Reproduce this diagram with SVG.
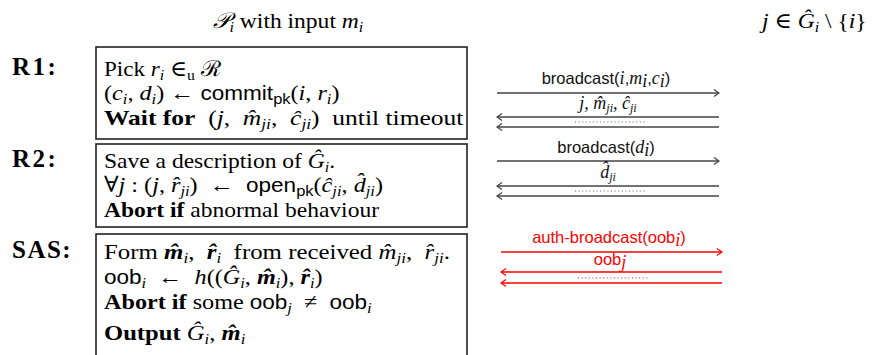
<svg xmlns="http://www.w3.org/2000/svg" width="874" height="355" viewBox="0 0 874 355">
<style>
.t{font-family:"Liberation Serif","DejaVu Serif",serif;font-size:22px;fill:#000;white-space:pre}
.b{font-weight:bold}
.i{font-style:italic}
.s{font-family:"Liberation Sans","DejaVu Sans",sans-serif;font-size:20.5px}
.sub{font-size:15px}
.lab{font-family:"Liberation Serif","DejaVu Serif",serif;font-size:25px;font-weight:bold;fill:#000;letter-spacing:2.5px}
.box{fill:none;stroke:#222;stroke-width:1.6}
.ar{stroke:#444;stroke-width:1.4;fill:none}
.red{stroke:#f00;stroke-width:1.4;fill:none}
.al{font-family:"Liberation Sans","DejaVu Sans",sans-serif;font-size:16.5px;fill:#111;text-anchor:middle}
.ali{font-family:"Liberation Serif","DejaVu Serif",serif;font-style:italic;font-size:18px}
.dots{stroke:#666;stroke-width:1;stroke-dasharray:1 2.6}
</style>
<defs>
<marker id="hk" markerWidth="8" markerHeight="10" refX="6" refY="4" orient="auto" markerUnits="userSpaceOnUse">
<path d="M1,0.5 L6,4 L1,7.5" fill="none" stroke="#444" stroke-width="1.2"/>
</marker>
<marker id="hkr" markerWidth="8" markerHeight="10" refX="6" refY="4" orient="auto" markerUnits="userSpaceOnUse">
<path d="M1,0.5 L6,4 L1,7.5" fill="none" stroke="#f00" stroke-width="1.2"/>
</marker>
</defs>

<g id="header">
<text class="t" x="213" y="28" transform="matrix(1.07 0 0 1 -14.91 0)"><tspan class="i">𝒫</tspan><tspan class="i sub" baseline-shift="-4">i</tspan> with input <tspan class="i">m</tspan><tspan class="i sub" baseline-shift="-4">i</tspan></text>
<text class="t" x="762" y="28" transform="matrix(1.07 0 0 1 -53.34 0)"><tspan class="i">j</tspan> ∈ <tspan class="i">Ĝ</tspan><tspan class="i sub" baseline-shift="-4">i</tspan> \ {<tspan class="i">i</tspan>}</text>
</g>

<g id="r1">
<text class="lab" x="12" y="75">R1:</text>
<rect class="box" x="96" y="47" width="371" height="92"/>
<text class="t" x="104" y="76" transform="matrix(1.05 0 0 1 -5.2 0)">Pick <tspan class="i">r</tspan><tspan class="i sub" baseline-shift="-4">i</tspan> ∈<tspan class="sub" baseline-shift="-4">u</tspan> ℛ</text>
<text class="t" x="104" y="100" transform="matrix(1.1 0 0 1 -10.4 0)">(<tspan class="i">c</tspan><tspan class="i sub" baseline-shift="-4">i</tspan>, <tspan class="i">d</tspan><tspan class="i sub" baseline-shift="-4">i</tspan>) ← <tspan class="s">commit</tspan><tspan class="s sub" baseline-shift="-4">pk</tspan>(<tspan class="i">i</tspan>, <tspan class="i">r</tspan><tspan class="i sub" baseline-shift="-4">i</tspan>)</text>
<text class="t" x="104" y="125" transform="matrix(1.16 0 0 1 -16.64 0)"><tspan class="b">Wait for</tspan>  (<tspan class="i">j</tspan>,  <tspan class="i">m̂</tspan><tspan class="i sub" baseline-shift="-4">ji</tspan>,  <tspan class="i">ĉ</tspan><tspan class="i sub" baseline-shift="-4">ji</tspan>)  until timeout</text>
</g>

<g id="r2">
<text class="lab" x="12" y="167">R2:</text>
<rect class="box" x="96" y="144" width="371" height="83"/>
<text class="t" x="104" y="168" transform="matrix(1.07 0 0 1 -7.28 0)">Save a description of <tspan class="i">Ĝ</tspan><tspan class="i sub" baseline-shift="-4">i</tspan>.</text>
<text class="t" x="104" y="192" transform="matrix(1.1 0 0 1 -10.4 0)">∀<tspan class="i">j</tspan> : (<tspan class="i">j</tspan>, <tspan class="i">r̂</tspan><tspan class="i sub" baseline-shift="-4">ji</tspan>)  ←  <tspan class="s">open</tspan><tspan class="s sub" baseline-shift="-4">pk</tspan>(<tspan class="i">ĉ</tspan><tspan class="i sub" baseline-shift="-4">ji</tspan>, <tspan class="i">d̂</tspan><tspan class="i sub" baseline-shift="-4">ji</tspan>)</text>
<text class="t" x="104" y="217" transform="matrix(1.07 0 0 1 -7.28 0)"><tspan class="b">Abort if</tspan> abnormal behaviour</text>
</g>

<g id="sas">
<text class="lab" x="12" y="258" style="letter-spacing:1.5px">SAS:</text>
<rect class="box" x="96" y="234" width="371" height="130"/>
<text class="t" x="104" y="259" transform="matrix(1.13 0 0 1 -13.52 0)">Form <tspan class="b i">m̂</tspan><tspan class="i sub" baseline-shift="-4">i</tspan>,  <tspan class="b i">r̂</tspan><tspan class="i sub" baseline-shift="-4">i</tspan>  from received <tspan class="i">m̂</tspan><tspan class="i sub" baseline-shift="-4">ji</tspan>,  <tspan class="i">r̂</tspan><tspan class="i sub" baseline-shift="-4">ji</tspan>.</text>
<text class="t" x="104" y="284" transform="matrix(1.1 0 0 1 -10.4 0)"><tspan class="s">oob</tspan><tspan class="i sub" baseline-shift="-4">i</tspan>  ←  <tspan class="i">h</tspan>((<tspan class="i">Ĝ</tspan><tspan class="i sub" baseline-shift="-4">i</tspan>, <tspan class="b i">m̂</tspan><tspan class="i sub" baseline-shift="-4">i</tspan>), <tspan class="b i">r̂</tspan><tspan class="i sub" baseline-shift="-4">i</tspan>)</text>
<text class="t" x="104" y="309" transform="matrix(1.1 0 0 1 -10.4 0)"><tspan class="b">Abort if</tspan> some <tspan class="s">oob</tspan><tspan class="i sub" baseline-shift="-4">j</tspan>  ≠  <tspan class="s">oob</tspan><tspan class="i sub" baseline-shift="-4">i</tspan></text>
<text class="t" x="104" y="340" transform="matrix(1.12 0 0 1 -12.48 0)"><tspan class="b">Output</tspan> <tspan class="i">Ĝ</tspan><tspan class="i sub" baseline-shift="-4">i</tspan>, <tspan class="b i">m̂</tspan><tspan class="i sub" baseline-shift="-4">i</tspan></text>
</g>

<g id="connectors">
<line class="ar" x1="497" y1="93" x2="719" y2="93" marker-end="url(#hk)"/>
<text class="al" x="606" y="84">broadcast(<tspan class="ali">i</tspan>,<tspan class="ali">m</tspan><tspan font-size="12" class="ali" baseline-shift="-3">i</tspan>,<tspan class="ali">c</tspan><tspan font-size="12" class="ali" baseline-shift="-3">i</tspan>)</text>
<text class="al ali" x="608" y="109">j, m̂<tspan font-size="12" baseline-shift="-3">ji</tspan>, ĉ<tspan font-size="12" baseline-shift="-3">ji</tspan></text>
<line class="ar" x1="719" y1="117" x2="497" y2="117" marker-end="url(#hk)"/>
<line class="dots" x1="575" y1="122" x2="645" y2="122"/>
<line class="ar" x1="719" y1="127" x2="497" y2="127" marker-end="url(#hk)"/>

<line class="ar" x1="497" y1="161" x2="719" y2="161" marker-end="url(#hk)"/>
<text class="al" x="606" y="153">broadcast(<tspan class="ali">d</tspan><tspan font-size="12" class="ali" baseline-shift="-3">i</tspan>)</text>
<text class="al ali" x="608" y="178">d̂<tspan font-size="12" baseline-shift="-3">ji</tspan></text>
<line class="ar" x1="719" y1="186" x2="497" y2="186" marker-end="url(#hk)"/>
<line class="dots" x1="575" y1="191" x2="645" y2="191"/>
<line class="ar" x1="719" y1="196" x2="497" y2="196" marker-end="url(#hk)"/>

<line class="red" x1="501" y1="252" x2="722" y2="252" marker-end="url(#hkr)"/>
<text class="al" x="609" y="243" style="fill:#f00">auth-broadcast(oob<tspan font-size="12" class="ali" baseline-shift="-3">i</tspan>)</text>
<text class="al" x="610" y="265" style="fill:#f00">oob<tspan font-size="12" class="ali" baseline-shift="-3">j</tspan></text>
<line class="red" x1="722" y1="272" x2="501" y2="272" marker-end="url(#hkr)"/>
<line class="dots" x1="578" y1="278" x2="648" y2="278" style="stroke:#f00"/>
<line class="red" x1="722" y1="283" x2="501" y2="283" marker-end="url(#hkr)"/>
</g>
</svg>
